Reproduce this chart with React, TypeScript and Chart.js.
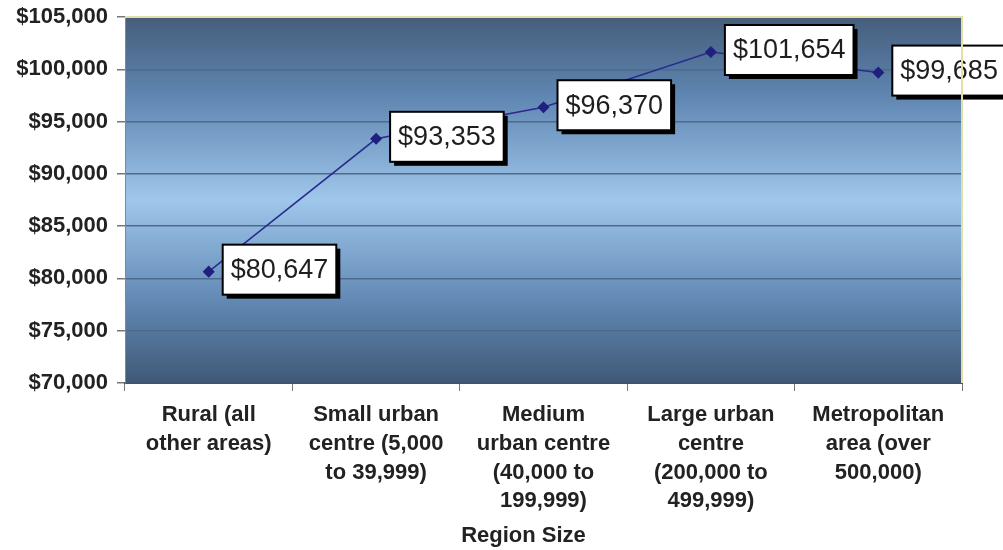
import React, { useEffect, useRef } from "react";
import { Chart, registerables } from "chart.js";

Chart.register(...registerables);

const categories: string[][] = [
  ["Rural (all", "other areas)"],
  ["Small urban", "centre (5,000", "to 39,999)"],
  ["Medium", "urban centre", "(40,000 to", "199,999)"],
  ["Large urban", "centre", "(200,000 to", "499,999)"],
  ["Metropolitan", "area (over", "500,000)"],
];
const incomes: number[] = [80647, 93353, 96370, 101654, 99685];
const yMin = 70000;
const yMax = 105000;
const yStep = 5000;
const xTitle = "Region Size";

const fmt = (v: number) => "$" + Number(v).toLocaleString("en-US");

const bgPlugin = {
  id: "bgGradient",
  beforeDraw(chart: any) {
    const { ctx, chartArea } = chart;
    if (!chartArea) return;
    const { left, top, right, bottom } = chartArea;
    const g = ctx.createLinearGradient(0, top, 0, bottom);
    g.addColorStop(0, "#465d7b");
    g.addColorStop(0.22, "#5f87b2");
    g.addColorStop(0.5, "#9fc7eb");
    g.addColorStop(0.78, "#6088b3");
    g.addColorStop(1, "#405876");
    ctx.save();
    ctx.fillStyle = g;
    ctx.fillRect(left, top, right - left, bottom - top);
    ctx.restore();
  },
  afterDraw(chart: any) {
    const { ctx, chartArea } = chart;
    const { left, top, right, bottom } = chartArea;
    ctx.save();
    ctx.strokeStyle = "#e2dea6";
    ctx.lineWidth = 2;
    ctx.beginPath();
    ctx.moveTo(left, top);
    ctx.lineTo(right, top);
    ctx.lineTo(right, bottom);
    ctx.stroke();
    ctx.fillStyle = "#222";
    ctx.font = "bold 22px 'Liberation Sans', Arial, sans-serif";
    ctx.textAlign = "center";
    ctx.textBaseline = "middle";
    ctx.fillText(xTitle, (left + right) / 2 - 20, 536);
    ctx.restore();
  },
};

const labelPlugin = {
  id: "boxLabels",
  afterDatasetsDraw(chart: any) {
    const { ctx } = chart;
    const meta = chart.getDatasetMeta(0);
    const data = chart.data.datasets[0].data as number[];
    ctx.save();
    ctx.font = "27px 'Liberation Sans', Arial, sans-serif";
    ctx.textBaseline = "middle";
    ctx.textAlign = "left";
    meta.data.forEach((pt: any, i: number) => {
      const text = fmt(data[i]);
      const w = ctx.measureText(text).width + 16;
      const h = 50;
      const x = pt.x + 14;
      const y = pt.y - h / 2 - 2;
      ctx.fillStyle = "#000";
      ctx.fillRect(x + 4, y + 4, w, h);
      ctx.fillStyle = "#fff";
      ctx.fillRect(x, y, w, h);
      ctx.strokeStyle = "#000";
      ctx.lineWidth = 2;
      ctx.strokeRect(x, y, w, h);
      ctx.fillStyle = "#1e1e1e";
      ctx.fillText(text, x + 8, y + h / 2 + 1);
    });
    ctx.restore();
  },
};

export default function App() {
  const ref = useRef<HTMLCanvasElement | null>(null);
  useEffect(() => {
    if (!ref.current) return;
    const chart = new Chart(ref.current, {
      type: "line",
      data: {
        labels: categories,
        datasets: [
          {
            data: incomes,
            borderColor: "#2a2a90",
            borderWidth: 1.5,
            pointStyle: "rectRot",
            pointRadius: 5,
            pointBackgroundColor: "#20207e",
            pointBorderColor: "#20207e",
            tension: 0,
          },
        ],
      },
      options: {
        animation: false,
        responsive: true,
        maintainAspectRatio: false,
        layout: { padding: { top: 17, right: 41, bottom: 0, left: 0 } },
        plugins: {
          legend: { display: false },
          tooltip: { enabled: false },
        },
        scales: {
          x: {
            type: "category",
            offset: true,
            grid: {
              offset: true,
              drawOnChartArea: false,
              tickLength: 8,
              tickColor: "#777",
            },
            border: { display: true, color: "#3d5470", width: 2 },
            ticks: {
              color: "#222",
              maxRotation: 0,
              autoSkip: false,
              padding: 10,
              font: { family: "'Liberation Sans', Arial, sans-serif", size: 22, weight: "bold", lineHeight: 1.3 },
            },
            afterFit(scale: any) {
              scale.height = 167;
              scale.paddingLeft = 0;
              scale.paddingRight = 0;
            },
          },
          y: {
            min: yMin,
            max: yMax,
            ticks: {
              stepSize: yStep,
              color: "#222",
              padding: 9,
              font: { family: "'Liberation Sans', Arial, sans-serif", size: 22, weight: "bold" },
              callback: (v: any) => fmt(v),
            },
            grid: {
              color: "#50698a",
              lineWidth: 1.5,
              tickLength: 8,
              tickColor: "#777",
            },
            border: { display: true, color: "#8a8a70", width: 1 },
            afterFit(scale: any) {
              scale.width = 125;
              scale.paddingTop = 0;
              scale.paddingBottom = 0;
            },
          },
        },
      },
      plugins: [bgPlugin, labelPlugin],
    } as any);
    return () => chart.destroy();
  }, []);
  return (
    <div style={{ position: "fixed", left: 0, top: 0, width: 1003, height: 550, background: "#fff" }}>
      <canvas ref={ref} />
    </div>
  );
}
